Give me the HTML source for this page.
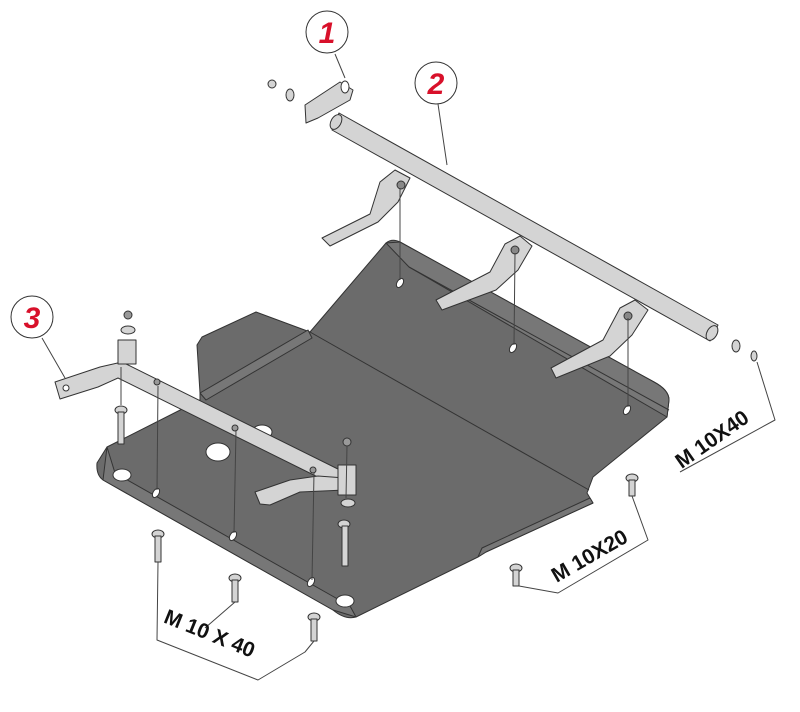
<!DOCTYPE html>
<html><head><meta charset="utf-8"><style>
html,body{margin:0;padding:0;background:#fff;width:800px;height:712px;overflow:hidden}
svg{display:block}
text{font-family:"Liberation Sans",sans-serif}
</style></head><body>
<svg width="800" height="712" viewBox="0 0 800 712" xmlns="http://www.w3.org/2000/svg">
<g stroke="#333" stroke-width="1" stroke-linejoin="round">
<path fill="#6b6b6b" d="M386,243 Q392,238 400,242 L654,382 Q669,390 669,400 L667,417 L593,477 L587,493 L593,503 L486,552 L478,557 L356,617 Q345,620 333,610 L103,480 Q96,475 97,463 L107,447 L200,400 L200,393 L197,345 L202,337 L256,312 L310,332 Z"/>
<path fill="#777" d="M386,243 L400,242 L654,382 Q669,390 669,400 L667,417 L409,267 Z"/>
<path fill="#777" d="M200,393 L308,330 L312,338 L206,400 Z"/>
<path fill="#777" d="M593,503 L486,552 L478,557 L482,548 L590,498 Z"/>
<path fill="#777" d="M107,447 L103,480 L333,610 L356,617 L350,606 L115,473 Z"/>
<line x1="310" y1="332" x2="589" y2="490"/>
<line x1="409" y1="267" x2="669" y2="410"/>
<g fill="#fff">
<ellipse cx="218" cy="452" rx="12" ry="9"/>
<ellipse cx="262" cy="432" rx="10" ry="7"/>
<ellipse cx="122" cy="475" rx="9" ry="6"/>
<ellipse cx="345" cy="601" rx="9" ry="6"/>
<ellipse cx="400" cy="283" rx="3" ry="5" transform="rotate(30 400 283)"/>
<ellipse cx="513" cy="348" rx="3" ry="5" transform="rotate(30 513 348)"/>
<ellipse cx="627" cy="410" rx="3" ry="5" transform="rotate(30 627 410)"/>
<ellipse cx="156" cy="493" rx="3" ry="5" transform="rotate(30 156 493)"/>
<ellipse cx="233" cy="536" rx="3" ry="5" transform="rotate(30 233 536)"/>
<ellipse cx="311" cy="582" rx="3" ry="5" transform="rotate(30 311 582)"/>
</g>
<g fill="#d4d4d4">
<path d="M322,238 L370,214 L380,182 L395,170 L410,178 L398,202 L378,222 L330,246 Z"/>
<path d="M436,300 L490,272 L505,244 L520,236 L532,246 L518,270 L496,290 L442,310 Z"/>
<path d="M551,368 L603,340 L620,308 L635,300 L648,310 L632,335 L610,356 L556,378 Z"/>
<path d="M339,113 L718,325 L710,341 L332,130 Z"/>
<ellipse cx="712" cy="333" rx="5" ry="8" transform="rotate(30 712 333)"/>
<ellipse cx="336" cy="122" rx="5" ry="8" transform="rotate(30 336 122)"/>
<path d="M305,105 L340,82 L353,90 L350,100 L318,118 L306,123 Z"/>
<ellipse cx="290" cy="95" rx="4" ry="6"/>
<circle cx="272" cy="84" r="4"/>
<ellipse cx="736" cy="346" rx="4" ry="6"/>
<ellipse cx="754" cy="356" rx="3" ry="5"/>
</g>
<ellipse cx="345" cy="87" rx="4" ry="6" fill="#fff"/>
<g fill="#888"><circle cx="401" cy="185" r="4"/><circle cx="515" cy="250" r="4"/><circle cx="628" cy="316" r="4"/></g>
<g fill="#d4d4d4">
<path d="M55,382 L100,367 L122,362 L352,476 L350,493 L118,378 L98,387 L60,399 Z"/>
<path d="M255,492 L290,480 L318,476 L345,478 L345,490 L300,492 L270,505 L260,504 Z"/>
<rect x="118" y="340" width="18" height="24"/>
<rect x="338" y="465" width="18" height="30"/>
<ellipse cx="128" cy="330" rx="7" ry="4"/>
<ellipse cx="348" cy="503" rx="7" ry="4"/>
<ellipse cx="121" cy="410" rx="6" ry="4"/>
<ellipse cx="344" cy="524" rx="6" ry="4"/>
<rect x="118" y="412" width="6" height="32"/>
<rect x="342" y="526" width="6" height="40"/>
<ellipse cx="158" cy="534" rx="6" ry="4"/><rect x="155" y="536" width="6" height="26"/>
<ellipse cx="235" cy="578" rx="6" ry="4"/><rect x="232" y="580" width="6" height="22"/>
<ellipse cx="314" cy="617" rx="6" ry="4"/><rect x="311" y="619" width="6" height="22"/>
<ellipse cx="632" cy="478" rx="6" ry="4"/><rect x="629" y="480" width="6" height="16"/>
<ellipse cx="516" cy="568" rx="6" ry="4"/><rect x="513" y="570" width="6" height="16"/>
</g>
<g fill="#999"><circle cx="128" cy="315" r="4"/><circle cx="347" cy="442" r="4"/><circle cx="157" cy="382" r="3"/><circle cx="235" cy="428" r="3"/><circle cx="313" cy="470" r="3"/></g>
<circle cx="66" cy="388" r="3" fill="#fff"/>
<g fill="none" stroke="#444">
<path d="M400,188 L400,280 M515,253 L514,345 M628,318 L628,407"/>
<path d="M158,386 L157,490 M236,430 L234,533 M314,473 L312,580 M121,367 L121,405 M347,446 L346,498"/>
<path d="M158,562 L157,640 L258,680 L305,652 L314,641 M235,602 L205,628"/>
<path d="M632,496 L648,540 L558,593 L519,586"/>
<path d="M757,362 L775,420 L680,472"/>
<path d="M335,54 L345,78 M438,104 L447,165 M42,338 L65,378"/>
</g>
<g fill="#fff" stroke="#333"><circle cx="327" cy="32" r="21"/><circle cx="436" cy="83" r="21"/><circle cx="32" cy="317" r="21"/></g>
</g>
<g font-weight="bold" font-style="italic" fill="#d8102a" font-size="30" text-anchor="middle">
<text x="327" y="43">1</text><text x="436" y="94">2</text><text x="32" y="328">3</text>
</g>
<g font-weight="bold" font-size="21" fill="#111" text-anchor="middle">
<text transform="translate(716,445) rotate(-35)">M 10X40</text>
<text transform="translate(593,562) rotate(-30)">M 10X20</text>
<text transform="translate(207,640) rotate(22)">M 10 X 40</text>
</g>
</svg>
</body></html>
